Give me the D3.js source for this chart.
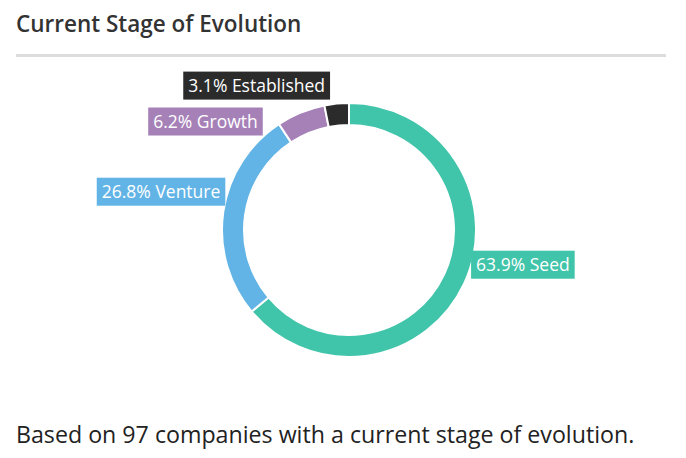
<!DOCTYPE html>
<html><head><meta charset="utf-8">
<script src="https://cdn.jsdelivr.net/npm/d3@7"></script>
<style>
body{margin:0;background:#fff;font-family:"Source Sans Pro","Open Sans","Noto Sans",sans-serif;}
</style></head>
<body><svg id="chart" width="686" height="458"></svg>
<script>
var stages = ['Seed', 'Venture', 'Growth', 'Established'];
var shares = [63.9, 26.8, 6.2, 3.1];
var colors = ['#40c4aa', '#62b4e6', '#a681b8', '#2b2b2b'];

// label placement relative to slice midpoint on the outer edge
var labelAnchor = ['start', 'end', 'end', 'middle'];
var labelShift = [[12, -19], [-3, -20], [-43, 9], [-80, -18]];

var svg = d3.select('#chart');
var cx = 349, cy = 230, rOut = 127, rIn = 105;

svg.append('text').attr('x', 16).attr('y', 32)
	.attr('font-size', 22.5).attr('font-weight', 600).attr('fill', '#333')
	.text('Current Stage of Evolution');
svg.append('rect').attr('x', 16).attr('y', 54).attr('width', 650).attr('height', 3).attr('fill', '#ddd');

var pie = d3.pie().sort(null).value(function(d) { return d; });
var arc = d3.arc().innerRadius(rIn).outerRadius(rOut);
var arcs = pie(shares);

var g = svg.append('g').attr('transform', 'translate(' + cx + ',' + cy + ')');
g.selectAll('path').data(arcs).enter().append('path')
	.attr('d', arc)
	.attr('fill', function(d, i) { return colors[i]; })
	.attr('stroke', '#fff').attr('stroke-width', 2);

arcs.forEach(function(d, i) {
	var a = (d.startAngle + d.endAngle) / 2;
	var x = Math.sin(a) * rOut + labelShift[i][0];
	var y = -Math.cos(a) * rOut + labelShift[i][1];
	var lg = g.append('g');
	var t = lg.append('text').attr('x', x).attr('y', y).attr('dy', '0.35em')
		.attr('text-anchor', labelAnchor[i])
		.attr('font-size', 17.5).attr('fill', '#fff')
		.text(shares[i].toFixed(1) + '% ' + stages[i]);
	var b = t.node().getBBox();
	lg.insert('rect', 'text').attr('x', b.x - 5).attr('y', y - 14)
		.attr('width', b.width + 10).attr('height', 28).attr('fill', colors[i]);
});

svg.append('text').attr('x', 16).attr('y', 443)
	.attr('font-size', 23.2).attr('fill', '#222')
	.text('Based on 97 companies with a current stage of evolution.');
</script></body></html>
